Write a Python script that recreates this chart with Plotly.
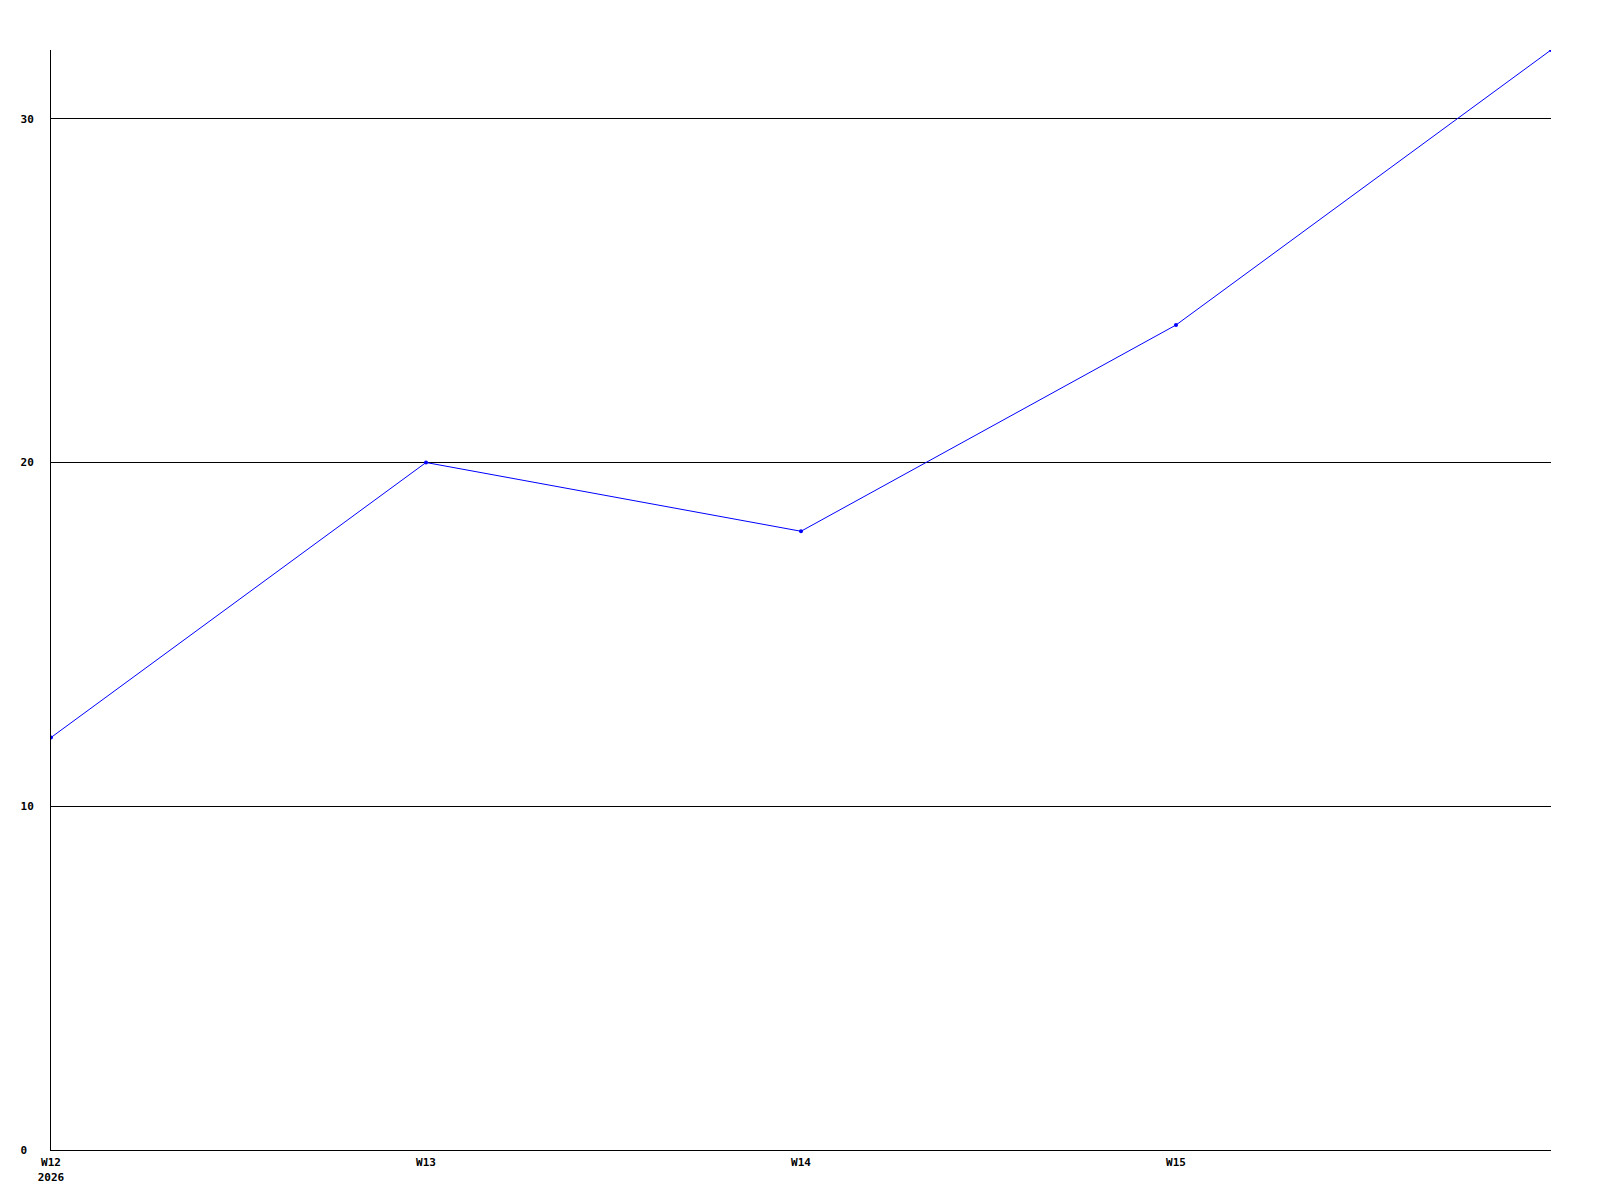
import plotly.graph_objects as go

weeks = ["W12", "W13", "W14", "W15", "W16"]
week_labels = ["W12<br>2026", "W13", "W14", "W15"]
values = [12, 20, 18, 24, 32]
y_ticks = [0, 10, 20, 30]
y_tick_labels = ["0\u00a0", "10", "20", "30"]

fig = go.Figure()
fig.add_trace(go.Scatter(
    x=list(range(len(weeks))), y=values, mode="lines+markers",
    line=dict(color="#0000ff", width=1),
    marker=dict(color="#0000ff", size=4),
    cliponaxis=True,
))

font = dict(family="DejaVu Sans Mono", size=11, color="black", weight="bold")
fig.update_layout(
    width=1584, height=1188,
    margin=dict(l=43, r=41, t=42, b=42),
    paper_bgcolor="white", plot_bgcolor="white",
    showlegend=False,
    xaxis=dict(
        range=[0, len(weeks) - 1],
        tickvals=list(range(len(week_labels))), ticktext=week_labels,
        showgrid=False, zeroline=False,
        showline=True, linecolor="black", linewidth=1,
        tickfont=font, ticks="", ticklabelstandoff=2,
    ),
    yaxis=dict(
        range=[0, 32],
        tickvals=y_ticks, ticktext=y_tick_labels,
        showgrid=True, gridcolor="black", gridwidth=1,
        zeroline=False,
        showline=True, linecolor="black", linewidth=1,
        tickfont=font, ticks="", ticklabelstandoff=14,
    ),
)
fig.write_html("out.html")
